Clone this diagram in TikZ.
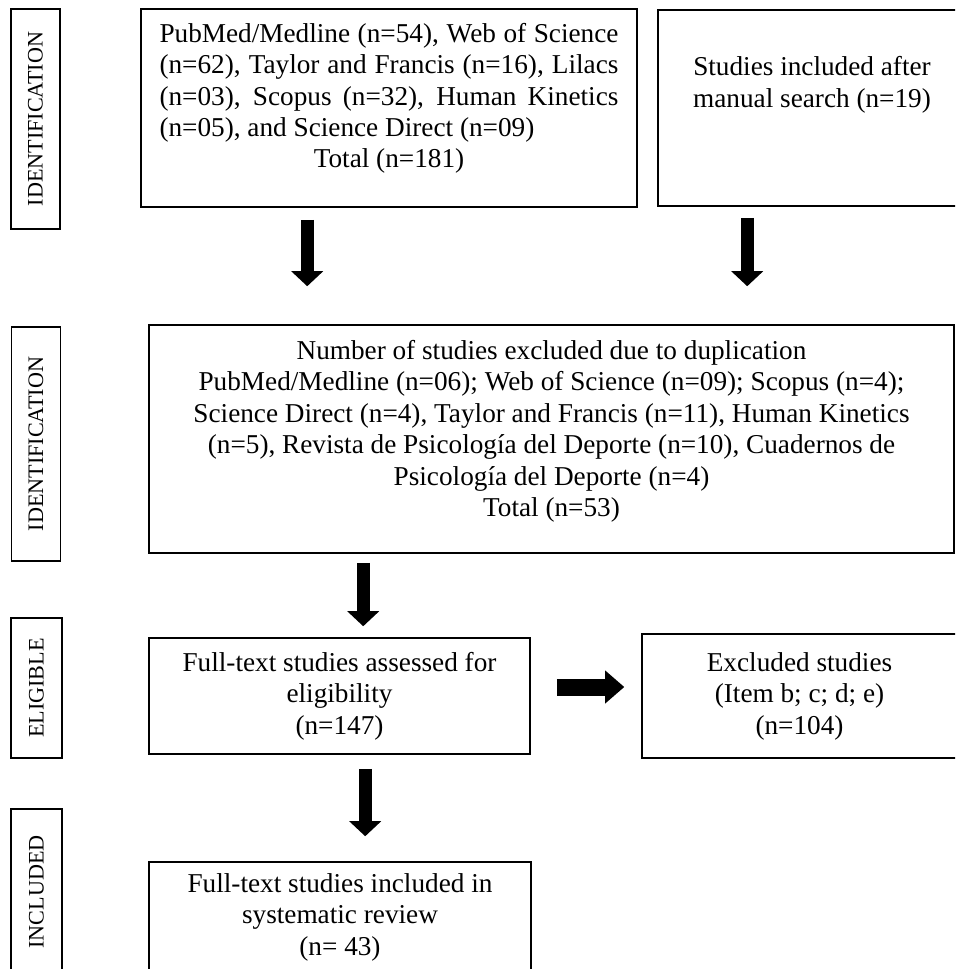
\documentclass[tikz,border=0pt]{standalone}
\usepackage{fontspec}
\setmainfont{Liberation Serif}
\usetikzlibrary{arrows.meta,positioning,calc}

\tikzset{
	box/.style={draw, line width=0.9pt, align=center, inner sep=0pt, font=\fontsize{15.5}{17.9}\selectfont},
	sidebox/.style={draw, line width=0.9pt, rotate=90, inner sep=0pt, minimum height=0.98cm, font=\fontsize{12.6}{14}\selectfont},
	fatdown/.style={line width=0.26cm, -{Triangle[length=0.3cm,width=0.64cm,line width=0pt]}},
	fatright/.style={line width=0.34cm, -{Triangle[length=0.38cm,width=0.66cm,line width=0pt]}}
}

\begin{document}
\begin{tikzpicture}
		\useasboundingbox (0,0) rectangle (19.1,-19.38);
		\clip (0,0) rectangle (19.1,-19.38);

		\node[sidebox, minimum width=4.4cm] (idA) at (0.71,-2.38) {IDENTIFICATION};
		\node[sidebox, minimum width=4.68cm] (idB) at (0.72,-8.88) {IDENTIFICATION};
		\node[sidebox, minimum width=2.8cm, minimum height=1.02cm] (elig) at (0.73,-13.76) {ELIGIBLE};
		\node[sidebox, minimum width=3.32cm, minimum height=1.02cm] (inc) at (0.73,-17.84) {INCLUDED};

		\node[box, align=justify, text width=9.18cm, minimum width=9.92cm, minimum height=3.96cm] (dbase) at (7.78,-2.16)
			{PubMed/Medline (n=54), Web of Science\linebreak (n=62), Taylor and Francis (n=16), Lilacs\linebreak (n=03), Scopus (n=32), Human Kinetics\linebreak (n=05), and Science Direct (n=09)\par
			{\centering Total (n=181)\rule[-0.5cm]{0pt}{0.5cm}\par}};
		\node[box, minimum width=6.16cm, minimum height=3.92cm] (manual) at (16.24,-2.16)
			{Studies included after\\ manual search (n=19)\rule[-1.05cm]{0pt}{1.05cm}};

		\node[box, minimum width=16.1cm, minimum height=4.56cm] (dup) at (11.03,-8.78)
			{Number of studies excluded due to duplication\\
			PubMed/Medline (n=06); Web of Science (n=09); Scopus (n=4);\\
			Science Direct (n=4), Taylor and Francis (n=11), Human Kinetics\\
			(n=5), Revista de Psicología del Deporte (n=10), Cuadernos de\\
			Psicología del Deporte (n=4)\\
			Total (n=53)\rule[-0.42cm]{0pt}{0.42cm}};

		\node[box, minimum width=7.62cm, minimum height=2.32cm] (full) at (6.79,-13.92)
			{Full-text studies assessed for\\ eligibility\\ (n=147)};
		\node[box, minimum width=6.3cm, minimum height=2.48cm] (excl) at (15.99,-13.92)
			{Excluded studies\\ (Item b; c; d; e)\\ (n=104)};
		\node[box, minimum width=7.64cm, minimum height=2.2cm] (incl) at (6.8,-18.34)
			{Full-text studies included in\\ systematic review\\ (n= 43)};

		\draw[fatdown, shorten <=0.24cm, shorten >=0.76cm] ([xshift=3.34cm]dbase.south west) -- ([xshift=3.34cm]dbase.south west |- dup.north);
		\draw[fatdown, shorten <=0.22cm, shorten >=0.76cm] ([xshift=1.8cm]manual.south west) -- ([xshift=1.8cm]manual.south west |- dup.north);
		\draw[fatdown, shorten <=0.18cm, shorten >=0.22cm] ([xshift=4.3cm]dup.south west) -- ([xshift=4.3cm]dup.south west |- full.north);
		\draw[fatright, shorten <=0.52cm, shorten >=0.34cm] ([yshift=0.18cm]full.east) -- ([yshift=0.18cm]full.east -| excl.west);
		\draw[fatdown, shorten <=0.28cm, shorten >=0.5cm] ([xshift=4.34cm]full.south west) -- ([xshift=4.34cm]full.south west |- incl.north);
	\end{tikzpicture}
\end{document}
